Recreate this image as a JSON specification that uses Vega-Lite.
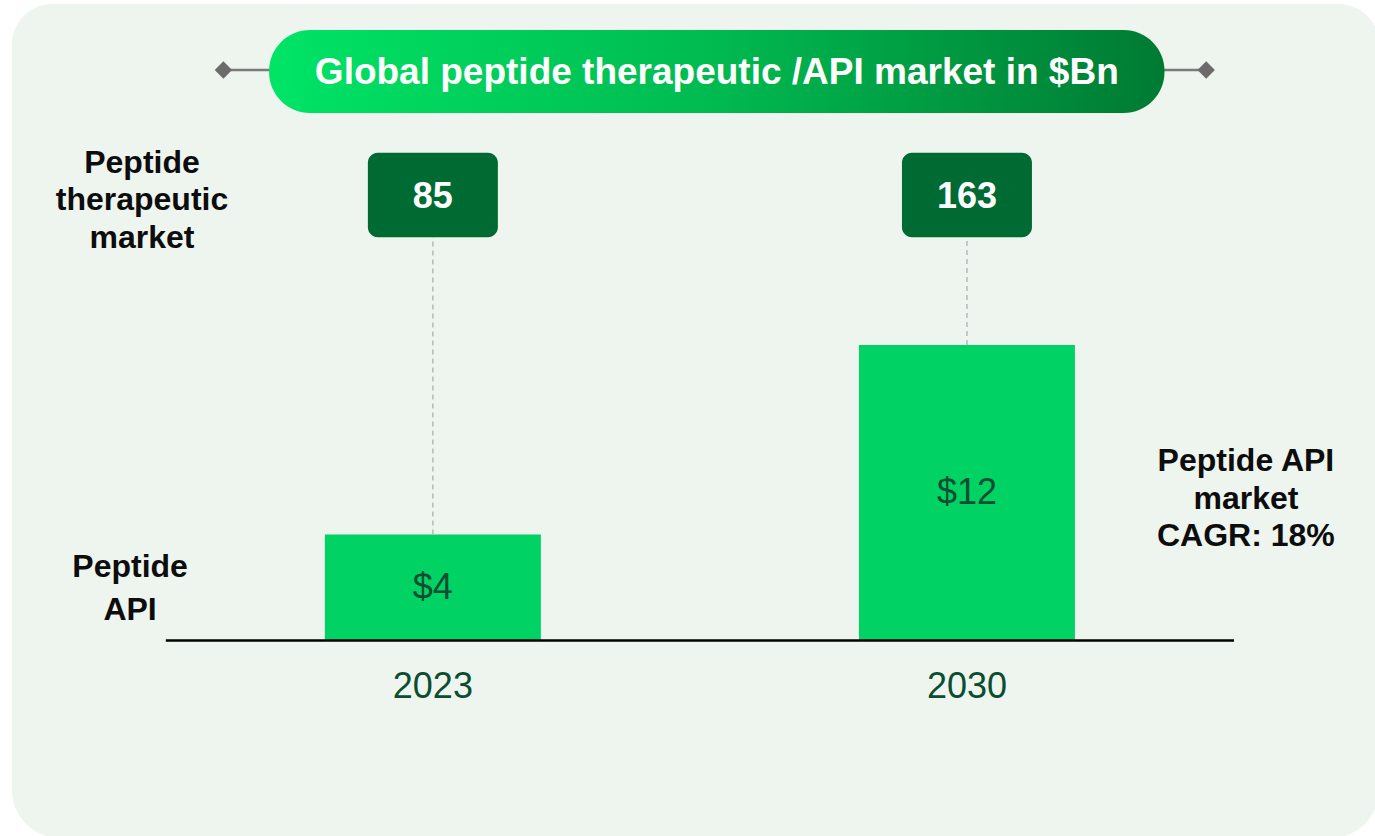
{
  "$schema": "https://vega.github.io/schema/vega-lite/v6.json",
  "width": 1375,
  "height": 836,
  "autosize": {"type": "none"},
  "padding": 0,
  "background": "#ffffff",
  "config": {"view": {"stroke": null}, "font": "Liberation Sans"},
  "datasets": {
    "market": [
      {"year": 2023, "api": 4.3, "api_label": "$4", "ther": 85},
      {"year": 2030, "api": 12.0, "api_label": "$12", "ther": 163}
    ]
  },
  "layer": [
    {
      "data": {"values": [{"k": 1}]},
      "mark": {"type": "rect", "fill": "#eef5ef", "cornerRadiusTopLeft": 40, "cornerRadiusTopRight": 40, "cornerRadiusBottomLeft": 48, "cornerRadiusBottomRight": 48},
      "encoding": {
        "x": {"datum": 2017.48327, "type": "quantitative", "scale": {"domain": [2017.39219, 2035.28253], "nice": false, "zero": false}, "axis": null},
        "x2": {"datum": 2035.39963},
        "y": {"datum": 25.84772, "type": "quantitative", "scale": {"domain": [-7.93909, 26.01015], "nice": false, "zero": false}, "axis": null},
        "y2": {"datum": -8.0203}
      }
    },
    {
      "data": {"values": [{"k": 1}]},
      "mark": {"type": "rule", "color": "#7a7a7a", "strokeWidth": 2.5},
      "encoding": {
        "x": {"datum": 2020.25464, "type": "quantitative"},
        "x2": {"datum": 2020.9},
        "y": {"datum": 23.16751, "type": "quantitative"}
      }
    },
    {
      "data": {"values": [{"k": 1}]},
      "mark": {"type": "rule", "color": "#7a7a7a", "strokeWidth": 2.5},
      "encoding": {
        "x": {"datum": 2032.55, "type": "quantitative"},
        "x2": {"datum": 2033.13568},
        "y": {"datum": 23.16751, "type": "quantitative"}
      }
    },
    {
      "data": {"values": [{"k": 1}]},
      "mark": {"type": "point", "shape": "diamond", "size": 300, "filled": true, "color": "#6b6b6b", "opacity": 1},
      "encoding": {
        "x": {"datum": 2020.25464, "type": "quantitative"},
        "y": {"datum": 23.16751, "type": "quantitative"}
      }
    },
    {
      "data": {"values": [{"k": 1}]},
      "mark": {"type": "point", "shape": "diamond", "size": 300, "filled": true, "color": "#6b6b6b", "opacity": 1},
      "encoding": {
        "x": {"datum": 2033.13568, "type": "quantitative"},
        "y": {"datum": 23.16751, "type": "quantitative"}
      }
    },
    {
      "data": {"values": [{"k": 1}]},
      "mark": {
        "type": "rect",
        "cornerRadius": 41,
        "fill": {"gradient": "linear", "x1": 0, "y1": 0, "x2": 1, "y2": 0, "stops": [{"offset": 0, "color": "#00e466"}, {"offset": 0.5, "color": "#00ba50"}, {"offset": 1, "color": "#007a33"}]}
      },
      "encoding": {
        "x": {"datum": 2020.85316, "type": "quantitative"},
        "x2": {"datum": 2032.58922},
        "y": {"datum": 24.79188, "type": "quantitative"},
        "y2": {"datum": 21.42132}
      }
    },
    {
      "data": {"values": [{"t": "Global peptide therapeutic /API market in $Bn"}]},
      "mark": {"type": "text", "fontSize": 37, "fontWeight": "bold", "color": "#ffffff", "align": "center", "baseline": "middle"},
      "encoding": {
        "x": {"datum": 2026.72119, "type": "quantitative"},
        "y": {"datum": 23.06193, "type": "quantitative"},
        "text": {"field": "t", "type": "nominal"}
      }
    },
    {
      "data": {"values": [{"t": "Peptide\ntherapeutic\nmarket"}]},
      "mark": {"type": "text", "fontSize": 32, "fontWeight": "bold", "color": "#0d0d0d", "align": "center", "baseline": "middle", "lineBreak": "\n", "lineHeight": 37.5},
      "encoding": {
        "x": {"datum": 2019.18773, "type": "quantitative"},
        "y": {"datum": 19.4, "type": "quantitative"},
        "text": {"field": "t", "type": "nominal"}
      }
    },
    {
      "data": {"values": [{"t": "Peptide\nAPI"}]},
      "mark": {"type": "text", "fontSize": 32, "fontWeight": "bold", "color": "#0d0d0d", "align": "center", "baseline": "middle", "lineBreak": "\n", "lineHeight": 43},
      "encoding": {
        "x": {"datum": 2019.0316, "type": "quantitative"},
        "y": {"datum": 2.98, "type": "quantitative"},
        "text": {"field": "t", "type": "nominal"}
      }
    },
    {
      "data": {"values": [{"t": "Peptide API\nmarket\nCAGR: 18%"}]},
      "mark": {"type": "text", "fontSize": 32, "fontWeight": "bold", "color": "#0d0d0d", "align": "center", "baseline": "middle", "lineBreak": "\n", "lineHeight": 37.5},
      "encoding": {
        "x": {"datum": 2033.65613, "type": "quantitative"},
        "y": {"datum": 7.28, "type": "quantitative"},
        "text": {"field": "t", "type": "nominal"}
      }
    },
    {
      "data": {"name": "market"},
      "mark": {"type": "bar", "orient": "vertical", "width": 216, "color": "#00d264"},
      "encoding": {
        "x": {"field": "year", "type": "quantitative"},
        "y": {"field": "api", "type": "quantitative"},
        "y2": {"datum": 0}
      }
    },
    {
      "data": {"values": [{"k": 1}]},
      "mark": {"type": "rule", "color": "#000000", "strokeWidth": 2.5},
      "encoding": {
        "x": {"datum": 2019.5, "type": "quantitative"},
        "x2": {"datum": 2033.5},
        "y": {"datum": 0, "type": "quantitative"}
      }
    },
    {
      "data": {"name": "market"},
      "mark": {"type": "rule", "color": "#b8b8b8", "strokeWidth": 1.5, "strokeDash": [5, 4]},
      "encoding": {
        "x": {"field": "year", "type": "quantitative"},
        "y": {"field": "api", "type": "quantitative"},
        "y2": {"datum": 16.3736}
      }
    },
    {
      "data": {"name": "market"},
      "mark": {"type": "bar", "orient": "vertical", "width": 130, "cornerRadius": 10, "color": "#006a33"},
      "encoding": {
        "x": {"field": "year", "type": "quantitative"},
        "y": {"datum": 19.80914, "type": "quantitative"},
        "y2": {"datum": 16.3736}
      }
    },
    {
      "data": {"name": "market"},
      "mark": {"type": "text", "fontSize": 36, "fontWeight": "bold", "color": "#ffffff", "align": "center", "baseline": "middle"},
      "encoding": {
        "x": {"field": "year", "type": "quantitative"},
        "y": {"datum": 17.99391, "type": "quantitative"},
        "text": {"field": "ther", "type": "nominal"}
      }
    },
    {
      "data": {"name": "market"},
      "mark": {"type": "text", "fontSize": 36, "color": "#0b4d31", "align": "center", "baseline": "middle"},
      "encoding": {
        "x": {"field": "year", "type": "quantitative"},
        "y": {"datum": -1.87614, "type": "quantitative"},
        "text": {"field": "year", "type": "nominal"}
      }
    },
    {
      "data": {"name": "market"},
      "transform": [{"calculate": "datum.api / 2", "as": "label_pos"}],
      "mark": {"type": "text", "fontSize": 36, "color": "#0b4d31", "align": "center", "baseline": "middle"},
      "encoding": {
        "x": {"field": "year", "type": "quantitative"},
        "y": {"field": "label_pos", "type": "quantitative"},
        "text": {"field": "api_label", "type": "nominal"}
      }
    }
  ]
}
